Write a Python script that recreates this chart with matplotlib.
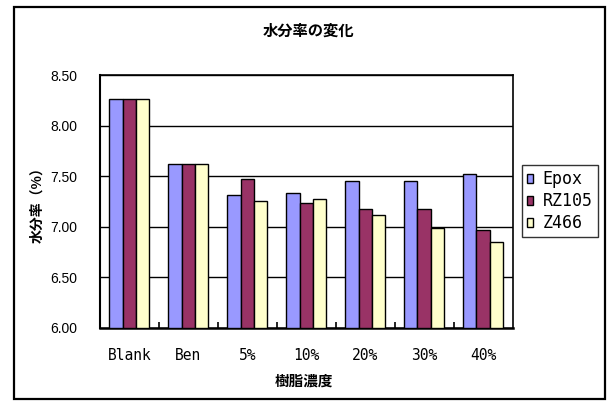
import matplotlib
matplotlib.use("Agg")
import matplotlib.pyplot as plt
import numpy as np
from matplotlib.patches import Rectangle, Patch

plt.rcParams['font.family'] = ['Noto Sans CJK JP', 'DejaVu Sans']

categories = ["Blank", "Ben", "5%", "10%", "20%", "30%", "40%"]
series_names = ["Epox", "RZ105", "Z466"]
epox = [8.26, 7.62, 7.31, 7.33, 7.45, 7.45, 7.52]
rz105 = [8.26, 7.62, 7.47, 7.23, 7.17, 7.17, 6.97]
z466 = [8.26, 7.62, 7.25, 7.27, 7.11, 6.99, 6.85]
yticks = [6.00, 6.50, 7.00, 7.50, 8.00, 8.50]
colors = ["#9999FF", "#993366", "#FFFFCC"]

fig = plt.figure(figsize=(6.09, 4.01), dpi=100)
W, H = 609, 401
ax = fig.add_axes([100 / W, 1 - 327.5 / H, 412.5 / W, 252.5 / H])

x = np.arange(len(categories))
bw = 0.226
for i, (vals, c) in enumerate(zip([epox, rz105, z466], colors)):
    ax.bar(x + (i - 1) * bw, np.array(vals) - 6.0, bottom=6.0, width=bw,
           color=c, edgecolor="black", linewidth=1.0, zorder=3)

ax.set_xlim(-0.5, len(categories) - 0.5)
ax.set_ylim(6.0, 8.5)
ax.set_yticks(yticks)
ax.set_yticklabels([f"{v:.2f}" for v in yticks], family="Liberation Sans", fontsize=10)
ax.yaxis.grid(True, color="black", linewidth=1.0, zorder=0)
ax.tick_params(axis="y", length=0, pad=16.5)

ax.set_xticks(x)
ax.set_xticklabels(categories, family="DejaVu Sans Mono", fontsize=10.5)
ax.set_xticks(np.arange(0.5, len(categories) - 0.5, 1.0), minor=True)
ax.tick_params(axis="x", which="major", length=0, pad=14.5)
ax.tick_params(axis="x", which="minor", direction="in", length=4, width=1.2)

for s in ax.spines.values():
    s.set_linewidth(1.2)
    s.set_color("black")
ax.spines["bottom"].set_linewidth(1.8)
ax.spines["left"].set_linewidth(1.5)

fig.text(308 / W, 1 - 31 / H, "水分率の変化", ha="center", va="center",
         fontsize=11, fontweight="bold")
fig.text(304 / W, 1 - 381 / H, "樹脂濃度", ha="center", va="center",
         fontsize=10.5, fontweight="bold")
fig.text(37 / W, 1 - 202 / H, "水分率（%）", ha="center", va="center",
         rotation=90, fontsize=10, fontweight="bold")

# outer border
fig.patches.append(Rectangle((14 / W, 1 - 399 / H), 591 / W, 392 / H,
                             transform=fig.transFigure, fill=False,
                             edgecolor="black", linewidth=1.6))

handles = [Patch(facecolor=c, edgecolor="black", linewidth=1.0) for c in colors]
leg = fig.legend(handles, series_names, loc="upper left",
                 bbox_to_anchor=(522 / W, 1 - 165 / H),
                 bbox_transform=fig.transFigure,
                 prop={"family": "DejaVu Sans Mono", "size": 12},
                 frameon=True, fancybox=False, borderaxespad=0,
                 handlelength=0.35, handleheight=0.45, handletextpad=0.6,
                 labelspacing=0.25, borderpad=0.3)
leg.get_frame().set_edgecolor("black")
leg.get_frame().set_linewidth(1.0)

fig.savefig("out.png", dpi=100)
